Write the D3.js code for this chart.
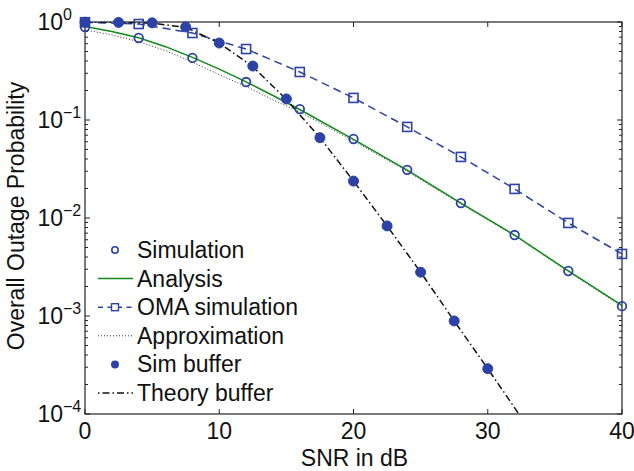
<!DOCTYPE html>
<html>
<head>
<meta charset="utf-8">
<script src="https://cdn.jsdelivr.net/npm/d3@7"></script>
<style>
  body { margin: 0; background: #fff; }
  text { font-family: "Liberation Sans", Arial, sans-serif; fill: #111; }
</style>
</head>
<body>
<script>
// data
const simX = [0, 4, 8, 12, 16, 20, 24, 28, 32, 36, 40]
const simY = [0.89, 0.687, 0.43, 0.244, 0.129, 0.064, 0.031, 0.0142, 0.0067, 0.00288, 0.00126]

const anaX = [0, 2, 4, 6, 8, 10, 12, 14, 16, 20, 24, 28, 32, 36, 40]
const anaY = [0.9, 0.8, 0.69, 0.56, 0.435, 0.33, 0.245, 0.178, 0.128, 0.0635, 0.0308, 0.0142, 0.0067, 0.00288, 0.00128]

const apxX = [0, 2, 4, 6, 8, 10, 12, 14, 16, 20, 24, 28, 32, 36, 40]
const apxY = [0.83, 0.74, 0.63, 0.51, 0.39, 0.29, 0.22, 0.16, 0.121, 0.061, 0.030, 0.0139, 0.0066, 0.00284, 0.00125]

const omaX = [0, 4, 8, 12, 16, 20, 24, 28, 32, 36, 40]
const omaY = [0.995, 0.954, 0.772, 0.53, 0.309, 0.168, 0.085, 0.042, 0.0198, 0.0089, 0.0043]

const bufX = [0, 2.5, 5, 7.5, 10, 12.5, 15, 17.5, 20, 22.5, 25, 27.5, 30]
const bufY = [0.995, 0.99, 0.98, 0.89, 0.61, 0.355, 0.164, 0.066, 0.0238, 0.0083, 0.0028, 0.00089, 0.00029]

const thX = [0, 2.5, 5, 7.5, 10, 12.5, 15, 17.5, 20, 22.5, 25, 27.5, 30, 32.5]
const thY = [0.999, 0.99, 0.975, 0.88, 0.61, 0.35, 0.162, 0.066, 0.0238, 0.0083, 0.0028, 0.00089, 0.00029, 0.000092]

const xTicks = [0, 10, 20, 30, 40]
const yTicks = [0, -1, -2, -3, -4]
const legendNames = ["Simulation", "Analysis", "OMA simulation", "Approximation", "Sim buffer", "Theory buffer"]

const blue = "#2c42a6"
const green = "#12891a"
const fs = 23

const W = 634, H = 471
const L = 85, R = 622, T = 22, B = 414

const svg = d3.select("body").append("svg")
  .attr("width", W).attr("height", H)

const x = d3.scaleLinear().domain([0, 40]).range([L, R])
const y = d3.scaleLog().domain([1e-4, 1]).range([B, T])

svg.append("defs").append("clipPath").attr("id", "plot")
  .append("rect").attr("x", L).attr("y", T).attr("width", R - L).attr("height", B - T)

// ticks, inside on all four sides
const minor = []
for (let e = -4; e < 0; e++) for (let k = 2; k < 10; k++) minor.push(k * Math.pow(10, e))

const tk = svg.append("g").attr("stroke", "#222").attr("stroke-width", 1)
xTicks.forEach(v => {
  tk.append("line").attr("x1", x(v)).attr("x2", x(v)).attr("y1", B).attr("y2", B - 5)
  tk.append("line").attr("x1", x(v)).attr("x2", x(v)).attr("y1", T).attr("y2", T + 5)
})
yTicks.forEach(e => {
  const v = Math.pow(10, e)
  tk.append("line").attr("x1", L).attr("x2", L + 5).attr("y1", y(v)).attr("y2", y(v))
  tk.append("line").attr("x1", R).attr("x2", R - 5).attr("y1", y(v)).attr("y2", y(v))
})
minor.forEach(v => {
  tk.append("line").attr("x1", L).attr("x2", L + 3).attr("y1", y(v)).attr("y2", y(v))
  tk.append("line").attr("x1", R).attr("x2", R - 3).attr("y1", y(v)).attr("y2", y(v))
})

svg.append("rect").attr("x", L).attr("y", T).attr("width", R - L).attr("height", B - T)
  .attr("fill", "none").attr("stroke", "#222").attr("stroke-width", 1.2)

// tick labels
svg.append("g").selectAll("text").data(xTicks).join("text")
  .attr("x", d => x(d)).attr("y", 439)
  .attr("text-anchor", "middle").attr("font-size", fs)
  .text(d => d)

svg.append("g").selectAll("text").data(yTicks).join("text")
  .attr("x", 63).attr("y", d => y(Math.pow(10, d)) + 8)
  .attr("text-anchor", "end").attr("font-size", fs)
  .text("10")
svg.append("g").selectAll("text").data(yTicks).join("text")
  .attr("x", 63).attr("y", d => y(Math.pow(10, d)) - 2)
  .attr("font-size", 16)
  .text(d => d === 0 ? "0" : "\u2212" + (-d))

// axis titles
svg.append("text").attr("x", (L + R) / 2 + 1).attr("y", 466)
  .attr("text-anchor", "middle").attr("font-size", fs).text("SNR in dB")
svg.append("text").attr("transform", "translate(24, 216) rotate(-90)")
  .attr("text-anchor", "middle").attr("font-size", fs).text("Overall Outage Probability")

// series
const line = d3.line().x(d => x(d[0])).y(d => y(d[1]))
const g = svg.append("g").attr("clip-path", "url(#plot)")

g.append("path").datum(d3.zip(apxX, apxY)).attr("d", line)
  .attr("fill", "none").attr("stroke", "#333").attr("stroke-width", 1).attr("stroke-dasharray", "1,2")
g.append("path").datum(d3.zip(anaX, anaY)).attr("d", line)
  .attr("fill", "none").attr("stroke", green).attr("stroke-width", 1.5)
g.append("path").datum(d3.zip(omaX, omaY)).attr("d", line)
  .attr("fill", "none").attr("stroke", blue).attr("stroke-width", 1.5).attr("stroke-dasharray", "8,5")
g.append("path").datum(d3.zip(thX, thY)).attr("d", line)
  .attr("fill", "none").attr("stroke", "#111").attr("stroke-width", 1.5).attr("stroke-dasharray", "7,3,1.5,3")

svg.append("g").selectAll("rect").data(d3.zip(omaX, omaY)).join("rect")
  .attr("x", d => x(d[0]) - 4.5).attr("y", d => y(d[1]) - 4.5)
  .attr("width", 9).attr("height", 9)
  .attr("fill", "none").attr("stroke", blue).attr("stroke-width", 1.6)
svg.append("g").selectAll("circle").data(d3.zip(simX, simY)).join("circle")
  .attr("cx", d => x(d[0])).attr("cy", d => y(d[1])).attr("r", 4.3)
  .attr("fill", "none").attr("stroke", blue).attr("stroke-width", 1.8)
svg.append("g").selectAll("circle").data(d3.zip(bufX, bufY)).join("circle")
  .attr("cx", d => x(d[0])).attr("cy", d => y(d[1])).attr("r", 5)
  .attr("fill", blue).attr("stroke", blue)

// legend (no box)
const lg = svg.append("g")
const ly = i => 250 + i * 28.6
lg.selectAll("text").data(legendNames).join("text")
  .attr("x", 137).attr("y", (d, i) => ly(i) + 8).attr("font-size", fs).text(d => d)
lg.append("circle").attr("cx", 115).attr("cy", ly(0)).attr("r", 3.2)
  .attr("fill", "none").attr("stroke", blue).attr("stroke-width", 1.6)
lg.append("line").attr("x1", 98).attr("x2", 133).attr("y1", ly(1)).attr("y2", ly(1))
  .attr("stroke", green).attr("stroke-width", 1.5)
lg.append("line").attr("x1", 98).attr("x2", 133).attr("y1", ly(2)).attr("y2", ly(2))
  .attr("stroke", blue).attr("stroke-width", 1.5).attr("stroke-dasharray", "5,4.5")
lg.append("rect").attr("x", 111.5).attr("y", ly(2) - 3.5).attr("width", 7).attr("height", 7)
  .attr("fill", "#fff").attr("stroke", blue).attr("stroke-width", 1.4)
lg.append("line").attr("x1", 98).attr("x2", 133).attr("y1", ly(3)).attr("y2", ly(3))
  .attr("stroke", "#333").attr("stroke-width", 1).attr("stroke-dasharray", "1,2")
lg.append("circle").attr("cx", 115).attr("cy", ly(4)).attr("r", 4)
  .attr("fill", blue)
lg.append("line").attr("x1", 98).attr("x2", 133).attr("y1", ly(5)).attr("y2", ly(5))
  .attr("stroke", "#111").attr("stroke-width", 1.3).attr("stroke-dasharray", "1.5,3,7,3")
</script>
</body>
</html>
